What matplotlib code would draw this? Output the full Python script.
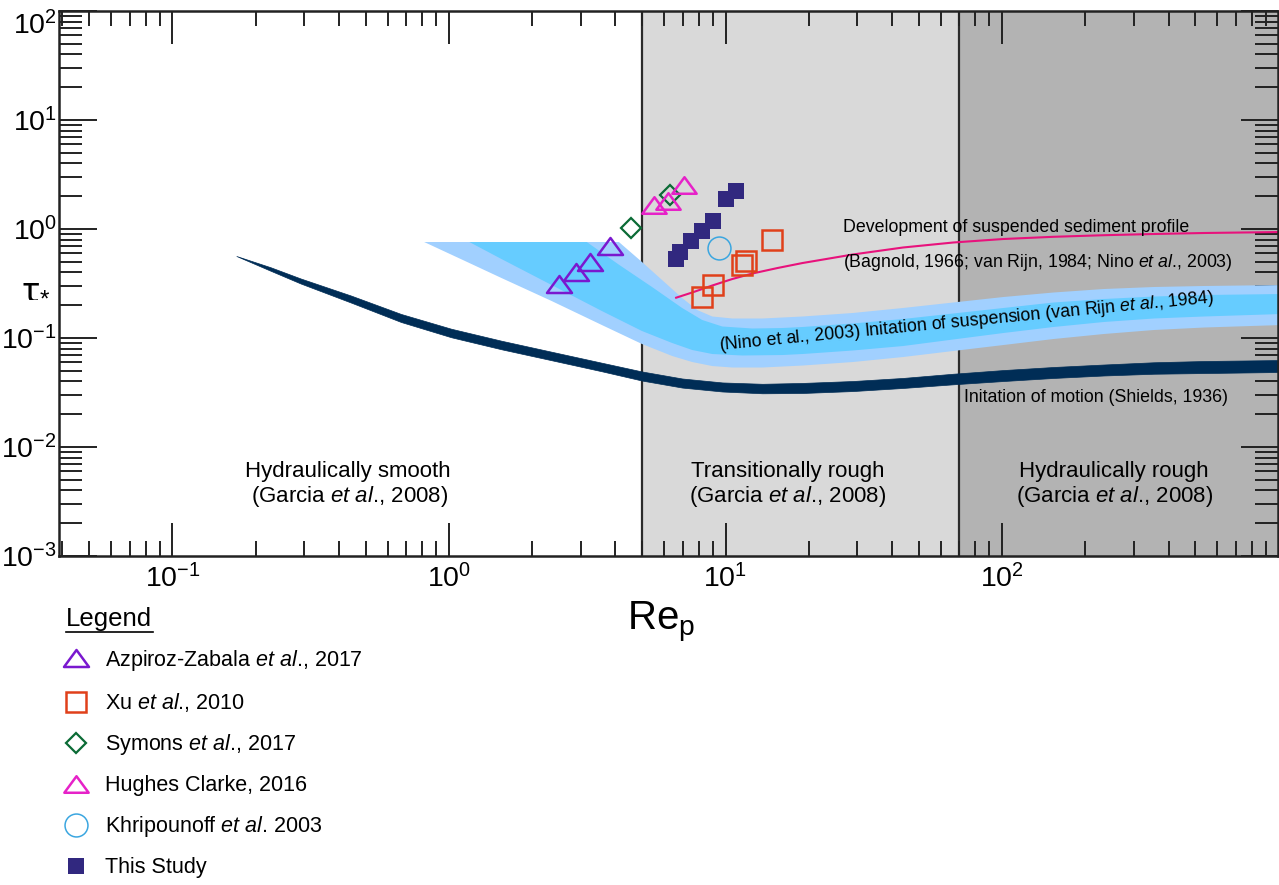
import matplotlib
matplotlib.use('Agg')
import matplotlib.pyplot as plt
from matplotlib.path import Path
from matplotlib.lines import Line2D
from matplotlib.ticker import LogLocator, NullFormatter

plt.rcParams['font.family'] = ['Liberation Sans', 'DejaVu Sans']
plt.rcParams['mathtext.fontset'] = 'custom'
plt.rcParams['mathtext.rm'] = 'Liberation Sans'
plt.rcParams['mathtext.it'] = 'Liberation Sans:italic'
plt.rcParams['axes.unicode_minus'] = False

# Regime boundaries (Garcia et al., 2008)
smooth_limit = 5
rough_limit = 70

# Shields curve (band edges)
shields_rep = [0.1704, 0.2265, 0.2910, 0.4418, 0.6712, 1.019, 1.548, 2.351, 3.571, 4.989,
               6.970, 9.736, 13.60, 19.00, 28.86, 43.84, 66.58, 101.1, 153.6, 233.3,
               354.3, 538.1, 1033]
shields_upper = [0.5652, 0.4456, 0.3514, 0.2454, 0.1661, 0.1216, 0.0944, 0.0748, 0.0593, 0.0493,
                 0.0425, 0.0391, 0.0380, 0.0387, 0.0403, 0.0430, 0.0470, 0.0508, 0.0542, 0.0571,
                 0.0599, 0.0615, 0.0628]
shields_lower = [0.5652, 0.4140, 0.3162, 0.2117, 0.1402, 0.1016, 0.0788, 0.0625, 0.0495, 0.0407,
                 0.0351, 0.0323, 0.0311, 0.0313, 0.0326, 0.0348, 0.0376, 0.0403, 0.0430, 0.0453,
                 0.0470, 0.0477, 0.0488]

# Initiation of suspension, outer band
outer_top_rep = [0.8135, 4.117, 4.989, 5.897, 6.970, 7.901, 8.957, 10.59, 13.60, 19.00,
                 28.86, 43.84, 66.58, 101.1, 153.6, 233.3, 354.3, 538.1, 1033]
outer_top_tau = [0.7598, 0.7598, 0.4979, 0.3404, 0.2328, 0.1806, 0.1575, 0.1510, 0.1510, 0.1575,
                 0.1696, 0.1885, 0.2117, 0.2377, 0.2615, 0.2815, 0.2937, 0.3000, 0.3063]
outer_bottom_rep = [0.8135, 1.185, 1.548, 2.351, 3.571, 4.989, 6.412, 7.579, 8.957, 10.59,
                    13.60, 19.00, 28.86, 43.84, 66.58, 101.1, 153.6, 233.3, 354.3, 538.1, 1033]
outer_bottom_tau = [0.7598, 0.4875, 0.3553, 0.2185, 0.1316, 0.0881, 0.0684, 0.0602, 0.0553, 0.0536,
                    0.0536, 0.0559, 0.0602, 0.0669, 0.0760, 0.0862, 0.0979, 0.1088, 0.1184, 0.1248,
                    0.1316]

# Initiation of suspension, inner band
inner_top_rep = [1.185, 3.150, 4.117, 5.424, 6.970, 8.237, 9.736, 12.51, 16.08, 19.00,
                 28.86, 43.84, 66.58, 101.1, 153.6, 233.3, 354.3, 538.1, 1033]
inner_top_tau = [0.7598, 0.7598, 0.4705, 0.2937, 0.1885, 0.1463, 0.1275, 0.1222, 0.1235, 0.1262,
                 0.1358, 0.1494, 0.1678, 0.1885, 0.2117, 0.2279, 0.2402, 0.2480, 0.2533]
inner_bottom_rep = [1.185, 1.548, 2.351, 3.571, 4.989, 6.412, 7.579, 8.957, 11.51, 16.08,
                    19.00, 28.86, 43.84, 66.58, 101.1, 153.6, 233.3, 354.3, 538.1, 1033]
inner_bottom_tau = [0.7598, 0.5306, 0.3063, 0.1769, 0.1159, 0.0900, 0.0776, 0.0713, 0.0691, 0.0698,
                    0.0713, 0.0768, 0.0844, 0.0969, 0.1111, 0.1262, 0.1402, 0.1510, 0.1575, 0.1661]

# Development of suspended sediment profile
profile_rep = [6.630, 7.579, 8.957, 10.59, 12.51, 15.42, 19.00, 28.86, 43.84, 66.58,
               101.1, 153.6, 233.3, 354.3, 538.1, 1033]
profile_tau = [0.2343, 0.2615, 0.3031, 0.3478, 0.3906, 0.4386, 0.4875, 0.5835, 0.6765, 0.7518,
               0.8096, 0.8482, 0.8771, 0.8999, 0.9190, 0.9386]

# Observations
azpiroz_rep = [2.49, 2.87, 3.23, 3.82]
azpiroz_tau = [0.313, 0.403, 0.498, 0.698]
xu_rep = [8.24, 9.01, 11.5, 11.87, 14.7]
xu_tau = [0.238, 0.304, 0.465, 0.509, 0.788]
symons_rep = [4.56, 6.32]
symons_tau = [1.02, 2.04]
hughes_rep = [5.52, 6.17, 7.07]
hughes_tau = [1.65, 1.80, 2.52]
khripounoff_rep = [9.47]
khripounoff_tau = [0.674]
study_rep = [6.63, 6.87, 7.52, 8.24, 9.01, 10.04, 10.94]
study_tau = [0.534, 0.615, 0.781, 0.965, 1.19, 1.90, 2.23]

# wide open triangle used for the triangle series
tri = Path([(-1, -0.68), (1, -0.68), (0, 0.68), (-1, -0.68)], closed=True)

fig = plt.figure(figsize=(12.79, 8.85), dpi=100)
ax = fig.add_axes([59 / 1279, 1 - 556 / 885, 1219 / 1279, 545 / 885])
ax.set_xscale('log')
ax.set_yscale('log')
ax.set_xlim(0.0389, 995)
ax.set_ylim(1e-3, 1e2)

# Flow regimes
ax.axvspan(smooth_limit, rough_limit, color='#d9d9d9', lw=0, zorder=0)
ax.axvspan(rough_limit, 1e4, color='#b3b3b3', lw=0, zorder=0)
ax.axvline(smooth_limit, color='#2b2b2b', lw=1.6, zorder=1)
ax.axvline(rough_limit, color='#2b2b2b', lw=1.6, zorder=1)

# Threshold curves
ax.fill(outer_top_rep + outer_bottom_rep[::-1], outer_top_tau + outer_bottom_tau[::-1],
        color='#a1d0ff', lw=0, zorder=2)
ax.fill(inner_top_rep + inner_bottom_rep[::-1], inner_top_tau + inner_bottom_tau[::-1],
        color='#66ccff', lw=0, zorder=2)
ax.fill_between(shields_rep, shields_lower, shields_upper,
                color='#002d56', lw=0.5, edgecolor='#002d56', zorder=2)
ax.plot(profile_rep, profile_tau, color='#e8127c', lw=1.5, zorder=3)

# Data points
h_az, = ax.plot(azpiroz_rep, azpiroz_tau, ls='none', marker=tri, ms=18, mfc='none',
                mec='#7a18cf', mew=1.8, zorder=4)
h_xu, = ax.plot(xu_rep, xu_tau, ls='none', marker='s', ms=14.5, mfc='none',
                mec='#e0401a', mew=1.8, zorder=4)
h_sy, = ax.plot(symons_rep, symons_tau, ls='none', marker='D', ms=10.2, mfc='none',
                mec='#0b6b35', mew=1.6, zorder=4)
h_hc, = ax.plot(hughes_rep, hughes_tau, ls='none', marker=tri, ms=17.5, mfc='none',
                mec='#e622c8', mew=1.8, zorder=4)
h_kh, = ax.plot(khripounoff_rep, khripounoff_tau, ls='none', marker='o', ms=16.5,
                mfc='none', mec='#3ba6e0', mew=1.1, zorder=4)
h_st, = ax.plot(study_rep, study_tau, ls='none', marker='s', ms=11.5, mfc='#31287f',
                mec='#31287f', mew=0, zorder=4)

# Axes styling
for side in ['left', 'right', 'top', 'bottom']:
    ax.spines[side].set_linewidth(1.8)
    ax.spines[side].set_color('#222222')
    ax.spines[side].set_zorder(6)
ax.xaxis.set_major_locator(LogLocator(base=10, numticks=20))
ax.xaxis.set_minor_locator(LogLocator(base=10, subs=range(2, 10), numticks=20))
ax.yaxis.set_major_locator(LogLocator(base=10, numticks=20))
ax.yaxis.set_minor_locator(LogLocator(base=10, subs=range(2, 10), numticks=20))
ax.xaxis.set_minor_formatter(NullFormatter())
ax.yaxis.set_minor_formatter(NullFormatter())
ax.tick_params(which='both', direction='in', top=True, right=True,
               color='#222222', width=1.4, labelsize=20.5, zorder=6)
ax.tick_params(axis='x', which='major', length=24, pad=6)
ax.tick_params(axis='x', which='minor', length=11)
ax.tick_params(axis='y', which='major', length=27, pad=1.5)
ax.tick_params(axis='y', which='minor', length=16.5)

# the top y label sits below its tick so it stays inside the figure
fig.canvas.draw()
for tick in ax.yaxis.get_major_ticks():
    if abs(tick.get_loc() - 100) < 1e-6:
        tick.label1.set_va('top')

# Regime labels
regime_fs = 16
fig.text(348 / 1279, 1 - 471 / 885, 'Hydraulically smooth', fontsize=regime_fs,
         ha='center', va='center')
fig.text(350 / 1279, 1 - 497 / 885, r'(Garcia $\mathit{et\ al}$., 2008)', fontsize=regime_fs,
         ha='center', va='center')
fig.text(788 / 1279, 1 - 471 / 885, 'Transitionally rough', fontsize=regime_fs,
         ha='center', va='center')
fig.text(788 / 1279, 1 - 497 / 885, r'(Garcia $\mathit{et\ al}$., 2008)', fontsize=regime_fs,
         ha='center', va='center')
fig.text(1114 / 1279, 1 - 471 / 885, 'Hydraulically rough', fontsize=regime_fs,
         ha='center', va='center')
fig.text(1115 / 1279, 1 - 497 / 885, r'(Garcia $\mathit{et\ al}$., 2008)', fontsize=regime_fs,
         ha='center', va='center')

# Curve labels
curve_fs = 12.8
fig.text(843 / 1279, 1 - 228 / 885, 'Development of suspended sediment profile',
         fontsize=curve_fs, ha='left', va='center')
fig.text(843 / 1279, 1 - 262 / 885,
         r'(Bagnold, 1966; van Rijn, 1984; Nino $\mathit{et\ al}$., 2003)',
         fontsize=curve_fs, ha='left', va='center')
fig.text(966 / 1279, 1 - 322 / 885,
         r'(Nino et al., 2003) Initation of suspension (van Rijn $\mathit{et\ al}$., 1984)',
         fontsize=curve_fs, ha='center', va='center', rotation=5.5,
         rotation_mode='anchor')
fig.text(964 / 1279, 1 - 398 / 885, 'Initation of motion (Shields, 1936)',
         fontsize=curve_fs, ha='left', va='center')

# Axis labels
fig.text(661 / 1279, 1 - 621 / 885, r'Re$_\mathregular{p}$', fontsize=29,
         ha='center', va='center')
fig.text(36 / 1279, 1 - 288 / 885, r'τ$_{*}$', fontsize=25, ha='center', va='center',
         family=['Noto Sans', 'DejaVu Sans'])

# Legend
fig.text(66 / 1279, 1 - 619 / 885, 'Legend', fontsize=18.5, ha='left', va='center')
fig.add_artist(Line2D([66 / 1279, 153 / 1279], [1 - 632 / 885, 1 - 632 / 885],
                      color='black', lw=1.2))
labels = [r'Azpiroz-Zabala $\mathit{et\ al}$., 2017',
          r'Xu $\mathit{et\ al}$., 2010',
          r'Symons $\mathit{et\ al}$., 2017',
          'Hughes Clarke, 2016',
          r'Khripounoff $\mathit{et\ al}$. 2003',
          'This Study']
fig.legend([h_az, h_xu, h_sy, h_hc, h_kh, h_st], labels, loc='upper left',
           bbox_to_anchor=(63 / 1279, 1 - 648 / 885), frameon=False, fontsize=15.5,
           handlelength=1.2, handletextpad=0.75, labelspacing=0.84,
           borderpad=0, borderaxespad=0)

fig.savefig('out.png', dpi=100)
